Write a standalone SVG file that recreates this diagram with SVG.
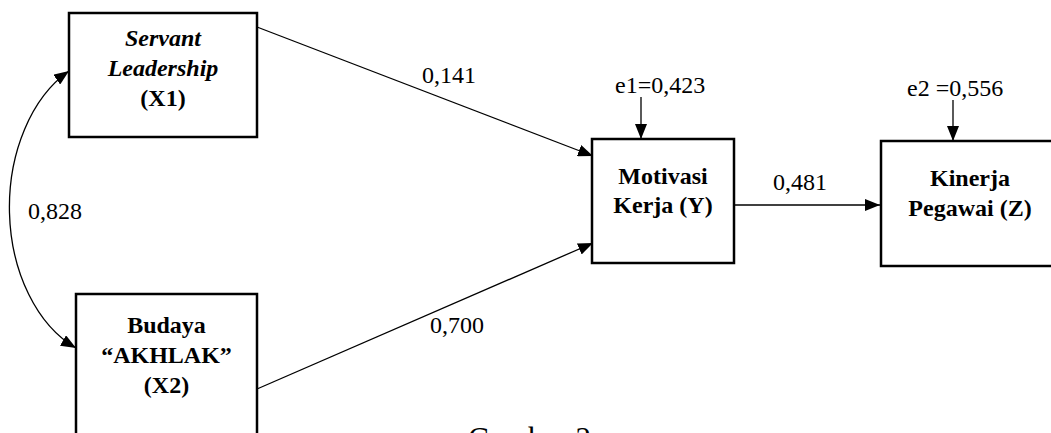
<svg xmlns="http://www.w3.org/2000/svg" width="1051" height="433" viewBox="0 0 1051 433">
<style>
.box{fill:#fff;stroke:#000;stroke-width:2.5}
.t{font-family:"Liberation Serif","Times New Roman",serif;font-size:24px;fill:#000}
.b{font-weight:bold;text-anchor:middle}
.bi{font-weight:bold;font-style:italic;text-anchor:middle}
.c{fill:none;stroke:#000;stroke-width:1.3}
</style>
<defs>
<marker id="ah" markerUnits="userSpaceOnUse" markerWidth="16" markerHeight="12" refX="15" refY="6" orient="auto-start-reverse" viewBox="0 0 16 12">
<path d="M0,0 L15,6 L0,12 z" fill="#000"/>
</marker>
</defs>
<rect width="1051" height="433" fill="#fff"/>
<g id="connectors">
<path class="c" d="M257,27 L593,156" marker-end="url(#ah)"/>
<path class="c" d="M257,389 L593,243" marker-end="url(#ah)"/>
<path class="c" d="M734,205 L880,205" marker-end="url(#ah)"/>
<path class="c" d="M641,97 L641,139" marker-end="url(#ah)"/>
<path class="c" d="M953,100 L953,141" marker-end="url(#ah)"/>
<path class="c" d="M69,71 A107,152 0 0 0 76,348" marker-start="url(#ah)" marker-end="url(#ah)"/>
<text class="t" x="422" y="83">0,141</text>
<text class="t" x="430" y="333">0,700</text>
<text class="t" x="773" y="190">0,481</text>
<text class="t" x="28" y="219">0,828</text>
</g>
<g id="X1">
<rect class="box" x="69" y="13" width="188" height="124"/>
<text class="t bi" x="163" y="46">Servant</text>
<text class="t bi" x="163" y="76">Leadership</text>
<text class="t b" x="163" y="106">(X1)</text>
</g>
<g id="X2">
<rect class="box" x="76" y="294" width="181" height="160"/>
<text class="t b" x="166.5" y="333">Budaya</text>
<text class="t b" x="166.5" y="363">“AKHLAK”</text>
<text class="t b" x="166.5" y="393">(X2)</text>
</g>
<g id="Y">
<rect class="box" x="592" y="139" width="142" height="124"/>
<text class="t b" x="663" y="184">Motivasi</text>
<text class="t b" x="663" y="213">Kerja (Y)</text>
</g>
<g id="Z">
<rect class="box" x="881" y="141" width="178" height="125"/>
<text class="t b" x="970" y="186">Kinerja</text>
<text class="t b" x="970" y="216">Pegawai (Z)</text>
</g>
<g id="errors">
<text class="t" x="615" y="93">e1=0,423</text>
<text class="t" x="907" y="96">e2 =0,556</text>
</g>
<text class="t" x="468" y="449" style="font-size:31px">Gambar 2</text>
</svg>
